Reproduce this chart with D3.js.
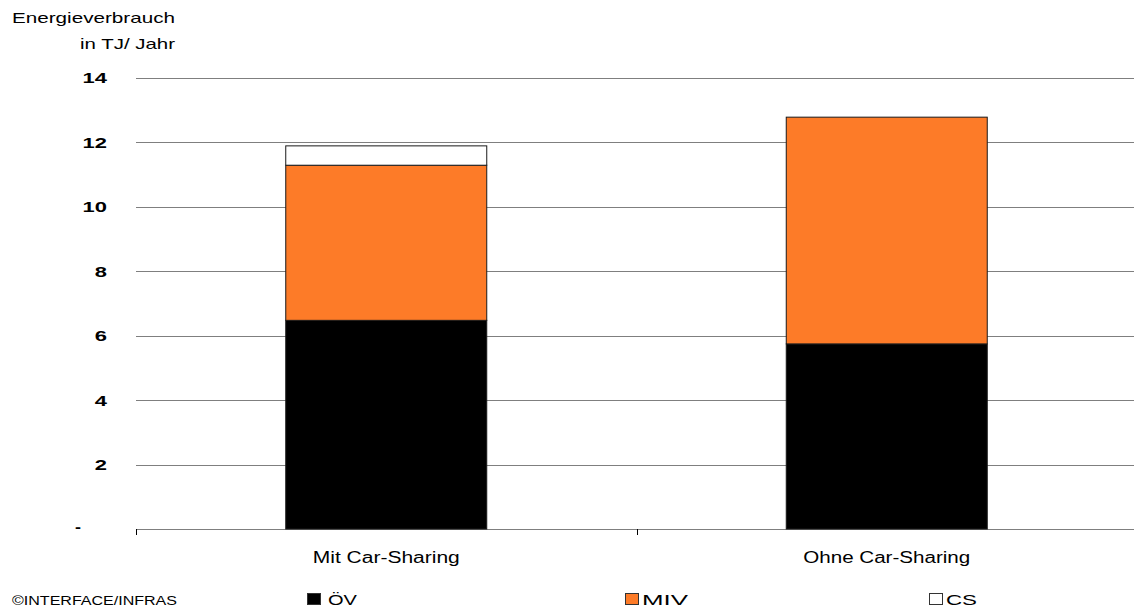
<!DOCTYPE html>
<html>
<head>
<meta charset="utf-8">
<script src="https://cdn.jsdelivr.net/npm/d3@7"></script>
<style>
  body { margin: 0; background: #fff; }
  text { font-family: "Liberation Sans", Arial, sans-serif; }
</style>
</head>
<body>
<div id="chart"></div>
<script>
const categories = ['Mit Car-Sharing', 'Ohne Car-Sharing'];
const seriesNames = ['ÖV', 'MIV', 'CS'];
const valuesOeV  = [6.47, 5.74];
const valuesMIV  = [4.81, 7.03];
const valuesCS   = [0.60, 0];
const yTicks     = [0, 2, 4, 6, 8, 10, 12, 14];
const colors     = ['#000000', '#fd7b28', '#ffffff'];

let width  = 1134;
let height = 609;

// the original picture is stretched sideways, so text gets a fixed length
const catLabelLen    = [147, 167];
const legendX        = [307, 625, 929];
const legendLabelLen = [29, 46, 31];

let rows = categories.map((c, i) => ({cat: c, 'ÖV': valuesOeV[i], 'MIV': valuesMIV[i], 'CS': valuesCS[i]}));
let stacked = d3.stack().keys(seriesNames)(rows);

let svg = d3.select('#chart')
  .append('svg')
  .attr('width', width)
  .attr('height', height);

let xScale = d3.scaleBand()
  .domain(categories)
  .range([136, 1137]);

let yScale = d3.scaleLinear()
  .domain([0, 14])
  .range([529, 77.5]);

// gridlines
svg.append('g')
  .selectAll('line')
  .data(yTicks)
  .enter()
  .append('line')
    .attr('x1', 136)
    .attr('x2', width)
    .attr('y1', d => Math.round(yScale(d)) + 0.5)
    .attr('y2', d => Math.round(yScale(d)) + 0.5)
    .style('stroke', '#7f7f7f')
    .style('stroke-width', 1);

// y labels
svg.append('g')
  .selectAll('text')
  .data(yTicks)
  .enter()
  .append('text')
    .attr('x', d => d === 0 ? 81 : 107)
    .attr('y', d => d === 0 ? yScale(d) + 3 : yScale(d) + 5.5)
    .attr('textLength', d => d === 0 ? 6 : String(d).length * 12.2)
    .attr('lengthAdjust', 'spacingAndGlyphs')
    .style('text-anchor', 'end')
    .style('font-weight', 'bold')
    .style('font-size', '15px')
    .text(d => d === 0 ? '-' : d);

// x-axis ticks at category boundaries
let bounds = [xScale.range()[0], xScale(categories[1])];
svg.append('g')
  .selectAll('line')
  .data(bounds)
  .enter()
  .append('line')
    .attr('x1', d => Math.round(d) + 0.5)
    .attr('x2', d => Math.round(d) + 0.5)
    .attr('y1', 529)
    .attr('y2', 535)
    .style('stroke', '#000')
    .style('stroke-width', 1);

// bars
const barWidth = 201;
svg.append('g')
  .selectAll('g')
  .data(stacked)
  .enter()
  .append('g')
    .style('fill', (d, i) => colors[i])
  .selectAll('rect')
  .data(d => d.filter(p => p[1] - p[0] > 0))
  .enter()
  .append('rect')
    .attr('x', d => xScale(d.data.cat) + xScale.bandwidth() / 2 - barWidth / 2)
    .attr('y', d => yScale(d[1]))
    .attr('width', barWidth)
    .attr('height', d => yScale(d[0]) - yScale(d[1]))
    .style('stroke', '#1a1a1a')
    .style('stroke-width', 1);

// category labels
svg.append('g')
  .selectAll('text')
  .data(categories)
  .enter()
  .append('text')
    .attr('x', d => xScale(d) + xScale.bandwidth() / 2)
    .attr('y', 563)
    .attr('textLength', (d, i) => catLabelLen[i])
    .attr('lengthAdjust', 'spacingAndGlyphs')
    .style('text-anchor', 'middle')
    .style('font-size', '16px')
    .text(d => d);

// axis title
svg.append('text')
  .attr('x', 12)
  .attr('y', 23)
  .attr('textLength', 163)
  .attr('lengthAdjust', 'spacingAndGlyphs')
  .style('font-size', '15px')
  .text('Energieverbrauch');

svg.append('text')
  .attr('x', 80)
  .attr('y', 49)
  .attr('textLength', 95)
  .attr('lengthAdjust', 'spacingAndGlyphs')
  .style('font-size', '15px')
  .text('in TJ/ Jahr');

// legend
let legend = svg.append('g')
  .selectAll('g')
  .data(seriesNames)
  .enter()
  .append('g')
    .attr('transform', (d, i) => `translate(${legendX[i]}, 593)`);

legend.append('rect')
  .attr('x', 0.5)
  .attr('y', 0.5)
  .attr('width', 13)
  .attr('height', 11)
  .style('fill', (d, i) => colors[i])
  .style('stroke', '#333')
  .style('stroke-width', 1);

legend.append('text')
  .attr('x', (d, i) => i === 0 ? 21 : 17)
  .attr('y', 11.5)
  .attr('textLength', (d, i) => legendLabelLen[i])
  .attr('lengthAdjust', 'spacingAndGlyphs')
  .style('font-size', '15.5px')
  .text(d => d);

// source note
svg.append('text')
  .attr('x', 12)
  .attr('y', 605)
  .attr('textLength', 165)
  .attr('lengthAdjust', 'spacingAndGlyphs')
  .style('font-size', '12px')
  .text('©INTERFACE/INFRAS');
</script>
</body>
</html>
